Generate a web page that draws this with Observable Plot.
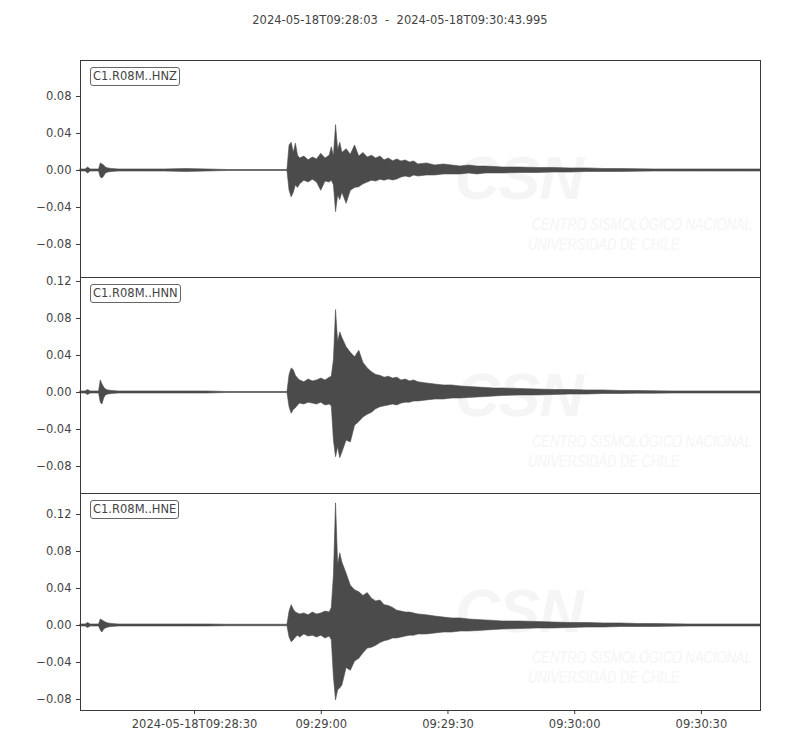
<!DOCTYPE html>
<html>
<head>
<meta charset="utf-8">
<script src="https://cdn.jsdelivr.net/npm/d3@7"></script>
<script src="https://cdn.jsdelivr.net/npm/@observablehq/plot@0.6"></script>
<style>
  body { margin: 0; background: #fff; font-family: "DejaVu Sans", sans-serif; color: #444; }
  #fig { position: relative; width: 800px; height: 750px; overflow: hidden; }
  .title { position: absolute; top: 13px; left: 0; width: 800px; text-align: center; font-size: 11.5px; white-space: pre; }
  .panel { position: absolute; left: 0; z-index: 2; }
  .tag { position: absolute; left: 90px; z-index: 3; font-size: 11.5px; line-height: 15px; padding: 1px 2px; border: 1px solid #666; border-radius: 3px; background: #fff; }
  .wm { position: absolute; z-index: 1; color: #f5f5f5; font-style: italic; white-space: nowrap; transform-origin: 0 0; }
  .wm.big { font-family: "Liberation Sans", sans-serif; font-weight: bold; font-size: 62px; line-height: 48px; letter-spacing: -1px; }
  .wm.small { font-family: "Liberation Sans", sans-serif; font-size: 17px; line-height: 18px; transform: scaleX(0.76); }
</style>
</head>
<body>
<div id="fig"></div>
<script>
// start of the trace and its length in seconds
const day = "2024-05-18";
const startTime = "09:28:03";
const endTime = "09:30:43.995";
const duration = 160.995;

const channels = ["C1.R08M..HNZ", "C1.R08M..HNN", "C1.R08M..HNE"];

const secs = [0, 1.2, 1.8, 2.4, 4.4, 4.8, 5.2, 5.6, 6, 6.6, 7.5, 9, 12, 15, 20, 25, 30, 35, 40, 45, 49,
  49.5, 50, 50.5, 51, 51.5, 52, 53, 54, 55, 56, 57, 58, 59, 59.5, 60, 60.5, 61, 61.5, 62,
  63, 64, 65, 66, 67, 68, 69, 70, 71, 72, 73, 74, 75, 76, 77, 78, 79, 80,
  82, 84, 86, 88, 90, 92, 94, 96, 98, 100,
  104, 108, 112, 116, 120, 124, 128, 132, 136, 140, 144, 148, 152, 156, 160, 161];

// HNZ upper / lower envelope
const hnzMax = [0.0011, 0.0011, 0.0032, 0.0011, 0.0011, 0.0076, 0.0065, 0.0054, 0.0032, 0.0022, 0.0016, 0.0011, 0.0011, 0.0011, 0.0011, 0.0016, 0.0011, 0.0005, 0.0005, 0.0005, 0.0005,
  0.027, 0.030, 0.019, 0.029, 0.016, 0.013, 0.015, 0.011, 0.014, 0.012, 0.018, 0.013, 0.016, 0.025, 0.015, 0.049, 0.022, 0.030, 0.019,
  0.023, 0.017, 0.027, 0.015, 0.019, 0.014, 0.016, 0.013, 0.015, 0.011, 0.013, 0.010, 0.012, 0.0097, 0.0108, 0.0086, 0.0097, 0.0065,
  0.0076, 0.0054, 0.0065, 0.0054, 0.0043, 0.0054, 0.0043, 0.0043, 0.0038, 0.0032,
  0.0032, 0.0027, 0.0027, 0.0022, 0.0022, 0.0016, 0.0016, 0.0013, 0.0011, 0.0011, 0.0011, 0.0011, 0.0011, 0.0011, 0.0011, 0.0011];
const hnzMin = [-0.0011, -0.0011, -0.0032, -0.0011, -0.0011, -0.0076, -0.0086, -0.0065, -0.0032, -0.0022, -0.0016, -0.0011, -0.0011, -0.0011, -0.0011, -0.0016, -0.0011, -0.0005, -0.0005, -0.0005, -0.0005,
  -0.022, -0.029, -0.024, -0.016, -0.019, -0.015, -0.011, -0.013, -0.010, -0.013, -0.022, -0.012, -0.013, -0.011, -0.016, -0.045, -0.027, -0.032, -0.024,
  -0.036, -0.022, -0.019, -0.018, -0.015, -0.013, -0.011, -0.012, -0.010, -0.011, -0.0097, -0.0108, -0.0097, -0.0076, -0.0065, -0.0076, -0.0054, -0.0065,
  -0.0054, -0.0054, -0.0043, -0.0043, -0.0043, -0.0032, -0.0043, -0.0032, -0.0032, -0.0032,
  -0.0027, -0.0027, -0.0022, -0.0022, -0.0016, -0.0016, -0.0016, -0.0013, -0.0011, -0.0011, -0.0011, -0.0011, -0.0011, -0.0011, -0.0011, -0.0011];

// HNN upper / lower envelope
const hnnMax = [0.0011, 0.0011, 0.0027, 0.0011, 0.0011, 0.013, 0.0086, 0.0054, 0.0032, 0.0022, 0.0016, 0.0011, 0.0011, 0.0011, 0.0011, 0.0011, 0.0011, 0.0005, 0.0005, 0.0005, 0.0005,
  0.019, 0.026, 0.024, 0.018, 0.015, 0.013, 0.011, 0.014, 0.012, 0.013, 0.015, 0.013, 0.016, 0.017, 0.035, 0.089, 0.054, 0.065, 0.059,
  0.049, 0.043, 0.038, 0.045, 0.032, 0.026, 0.022, 0.019, 0.018, 0.016, 0.017, 0.015, 0.016, 0.013, 0.014, 0.012, 0.013, 0.011,
  0.0097, 0.0086, 0.0076, 0.0076, 0.0065, 0.0059, 0.0054, 0.0049, 0.0043, 0.0043,
  0.0038, 0.0032, 0.0027, 0.0027, 0.0022, 0.0022, 0.0016, 0.0016, 0.0013, 0.0011, 0.0011, 0.0011, 0.0011, 0.0011, 0.0011, 0.0011];
const hnnMin = [-0.0011, -0.0011, -0.0027, -0.0011, -0.0011, -0.011, -0.013, -0.0065, -0.0032, -0.0022, -0.0016, -0.0011, -0.0011, -0.0011, -0.0011, -0.0011, -0.0011, -0.0005, -0.0005, -0.0005, -0.0005,
  -0.016, -0.023, -0.019, -0.017, -0.014, -0.012, -0.013, -0.011, -0.012, -0.013, -0.011, -0.014, -0.013, -0.015, -0.052, -0.070, -0.059, -0.071, -0.065,
  -0.052, -0.054, -0.036, -0.032, -0.027, -0.024, -0.022, -0.018, -0.016, -0.015, -0.014, -0.013, -0.014, -0.012, -0.011, -0.011, -0.0097, -0.0097,
  -0.0086, -0.0076, -0.0076, -0.0065, -0.0065, -0.0059, -0.0054, -0.0049, -0.0043, -0.0038,
  -0.0032, -0.0032, -0.0027, -0.0022, -0.0022, -0.0016, -0.0016, -0.0013, -0.0013, -0.0011, -0.0011, -0.0011, -0.0011, -0.0011, -0.0011, -0.0011];

// HNE upper / lower envelope
const hneMax = [0.0011, 0.0011, 0.0027, 0.0011, 0.0011, 0.0065, 0.0054, 0.0043, 0.0032, 0.0022, 0.0016, 0.0011, 0.0011, 0.0011, 0.0011, 0.0011, 0.0011, 0.0008, 0.0008, 0.0008, 0.0008,
  0.015, 0.022, 0.017, 0.014, 0.013, 0.012, 0.013, 0.011, 0.014, 0.012, 0.013, 0.015, 0.014, 0.019, 0.054, 0.132, 0.065, 0.078, 0.068,
  0.056, 0.043, 0.038, 0.036, 0.032, 0.035, 0.029, 0.026, 0.027, 0.022, 0.021, 0.019, 0.016, 0.015, 0.014, 0.014, 0.013, 0.012,
  0.011, 0.0097, 0.0086, 0.0076, 0.0076, 0.0065, 0.0059, 0.0054, 0.0049, 0.0043,
  0.0043, 0.0038, 0.0032, 0.0027, 0.0027, 0.0022, 0.0022, 0.0016, 0.0016, 0.0013, 0.0011, 0.0011, 0.0011, 0.0011, 0.0011, 0.0011];
const hneMin = [-0.0011, -0.0011, -0.0027, -0.0011, -0.0011, -0.0054, -0.0076, -0.0043, -0.0032, -0.0022, -0.0016, -0.0011, -0.0011, -0.0011, -0.0011, -0.0011, -0.0011, -0.0008, -0.0008, -0.0008, -0.0008,
  -0.013, -0.018, -0.016, -0.013, -0.011, -0.013, -0.0097, -0.012, -0.011, -0.013, -0.011, -0.014, -0.012, -0.016, -0.056, -0.081, -0.070, -0.068, -0.065,
  -0.046, -0.049, -0.039, -0.036, -0.030, -0.025, -0.024, -0.022, -0.019, -0.017, -0.016, -0.014, -0.014, -0.013, -0.012, -0.011, -0.011, -0.0097,
  -0.0097, -0.0086, -0.0076, -0.0076, -0.0065, -0.0065, -0.0059, -0.0054, -0.0049, -0.0043,
  -0.0038, -0.0032, -0.0032, -0.0027, -0.0022, -0.0022, -0.0016, -0.0016, -0.0016, -0.0013, -0.0011, -0.0011, -0.0011, -0.0011, -0.0011, -0.0011];

// y ranges and ticks per panel (same scale on all three)
const yDomains = [[-0.1157, 0.1189], [-0.1092, 0.1243], [-0.0919, 0.1427]];
const yTicks = [
  [-0.08, -0.04, 0, 0.04, 0.08],
  [-0.08, -0.04, 0, 0.04, 0.08, 0.12],
  [-0.08, -0.04, 0, 0.04, 0.08, 0.12]
];
const xTickLabels = ["09:28:30", "09:29:00", "09:29:30", "09:30:00", "09:30:30"];

const maxes = [hnzMax, hnnMax, hneMax];
const mins = [hnzMin, hnnMin, hneMin];

const t0 = new Date(`${day}T${startTime}Z`);
const t1 = new Date(t0.getTime() + duration * 1000);
const xTicks = xTickLabels.map(s => new Date(`${day}T${s}Z`));
const hms = d3.utcFormat("%H:%M:%S");

const wave = "#4b4b4b";
const panelTops = [60, 277, 493];
const panelHeights = [217, 216, 217];

const fig = d3.select("#fig");
fig.append("div").attr("class", "title").text(`${day}T${startTime}  -  ${day}T${endTime}`);

channels.forEach((name, i) => {
  let rows = secs.map((s, k) => ({t: new Date(t0.getTime() + s * 1000), hi: maxes[i][k], lo: mins[i][k]}));
  let last = i === channels.length - 1;
  let mb = last ? 40 : 12;

  let chart = Plot.plot({
    width: 800,
    height: 12 + panelHeights[i] + mb,
    marginLeft: 80,
    marginRight: 40,
    marginTop: 12,
    marginBottom: mb,
    style: {background: "transparent", overflow: "visible", fontFamily: "DejaVu Sans", fontSize: "11.5px", color: "#444"},
    x: {type: "utc", domain: [t0, t1], axis: null, label: null},
    y: {domain: yDomains[i], axis: null, label: null},
    marks: [
      Plot.areaY(rows, {x: "t", y1: "lo", y2: "hi", fill: wave, stroke: wave, strokeWidth: 0.6}),
      Plot.frame({stroke: "#3a3a3a"}),
      Plot.axisY({ticks: yTicks[i], tickFormat: d3.format(".2f"), tickSize: 4, tickPadding: 5, stroke: "#3a3a3a", label: null}),
      last ? Plot.axisX({
        ticks: xTicks,
        tickSize: 4,
        tickPadding: 5,
        stroke: "#3a3a3a",
        label: null,
        tickFormat: d => hms(d) === xTickLabels[0] ? `${day}T${hms(d)}` : hms(d)
      }) : null
    ]
  });

  fig.append("div").attr("class", "panel").style("top", (panelTops[i] - 12) + "px").node().append(chart);
  fig.append("div").attr("class", "tag").style("top", (panelTops[i] + 7) + "px").text(name);

  // faint CSN watermark behind each trace
  fig.append("div").attr("class", "wm big").style("left", "455px").style("top", (panelTops[i] + 94) + "px").text("CSN");
  fig.append("div").attr("class", "wm small").style("left", "532px").style("top", (panelTops[i] + 156) + "px").text("CENTRO SISMOLÓGICO NACIONAL");
  fig.append("div").attr("class", "wm small").style("left", "528px").style("top", (panelTops[i] + 176) + "px").text("UNIVERSIDAD DE CHILE");
});
</script>
</body>
</html>
